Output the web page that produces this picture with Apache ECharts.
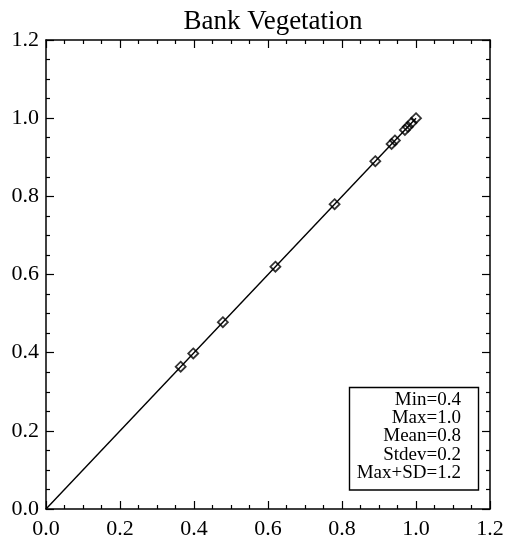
<!DOCTYPE html>
<html>
<head>
<meta charset="utf-8">
<script src="https://cdn.jsdelivr.net/npm/echarts@6/dist/echarts.min.js"></script>
<style>
html,body{margin:0;padding:0;background:#fff;}
#chart{width:510px;height:544px;}
</style>
</head>
<body>
<div id="chart"></div>
<script>
// Data
var titleText = 'Bank Vegetation';
var xValues = [0.364, 0.398, 0.478, 0.62, 0.78, 0.89, 0.934, 0.943, 0.97, 0.978, 0.988, 1.0];
var yValues = [0.364, 0.398, 0.478, 0.62, 0.78, 0.89, 0.934, 0.943, 0.97, 0.978, 0.988, 1.0];
var lineX = [0.0, 1.0];
var lineY = [0.0, 1.0];
var statsLines = ['Min=0.4', 'Max=1.0', 'Mean=0.8', 'Stdev=0.2', 'Max+SD=1.2'];
var axisMin = 0, axisMax = 1.2, axisStep = 0.2;

var FONT = '"Liberation Serif", "Times New Roman", serif';
var chart = echarts.init(document.getElementById('chart'), null, {renderer: 'canvas'});

function mkAxis(pos, showLabel, isX) {
  return {
    type: 'value', position: pos, min: axisMin, max: axisMax, interval: axisStep,
    axisLine: {show: true, onZero: false, lineStyle: {color: '#000', width: 1.5}},
    axisTick: {show: true, inside: true, length: 8, lineStyle: {color: '#000', width: 1.2}},
    minorTick: {show: true, splitNumber: 4, length: 4, lineStyle: {color: '#000', width: 1.2}},
    splitLine: {show: false},
    axisLabel: {
      show: showLabel, color: '#000', fontFamily: FONT, fontSize: 22,
      margin: isX ? 9 : 7,
      formatter: function (v) { return v.toFixed(1); }
    }
  };
}

var scatterData = xValues.map(function (x, i) { return [x, yValues[i]]; });
var lineData = lineX.map(function (x, i) { return [x, lineY[i]]; });

chart.setOption({
  animation: false,
  backgroundColor: '#fff',
  title: {
    text: titleText, left: 268, top: 3, textAlign: 'center',
    textStyle: {fontFamily: FONT, fontSize: 27, fontWeight: 'normal', color: '#000'}
  },
  grid: {left: 46, right: 20, top: 40, bottom: 35, containLabel: false},
  xAxis: [mkAxis('bottom', true, true), mkAxis('top', false, true)],
  yAxis: [mkAxis('left', true, false), mkAxis('right', false, false)],
  series: [
    {
      type: 'line', data: lineData, xAxisIndex: 0, yAxisIndex: 0,
      showSymbol: false, symbol: 'none',
      lineStyle: {color: '#000', width: 1.4}
    },
    {
      type: 'scatter', data: scatterData, xAxisIndex: 0, yAxisIndex: 0,
      symbol: 'diamond', symbolSize: [10, 10],
      itemStyle: {color: 'rgba(255,255,255,0)', borderColor: '#000', borderWidth: 1.8}
    }
  ],
  graphic: [
    {
      type: 'rect', shape: {x: 349.5, y: 387.5, width: 129, height: 102.5},
      style: {fill: '#fff', stroke: '#000', lineWidth: 1.4}, z: 100
    },
    {
      type: 'text', x: 461, y: 391, z: 101,
      style: {
        text: statsLines.join('\n'), align: 'right', verticalAlign: 'top',
        font: '19px ' + FONT, lineHeight: 18.2, fill: '#000'
      }
    }
  ]
});
</script>
</body>
</html>
